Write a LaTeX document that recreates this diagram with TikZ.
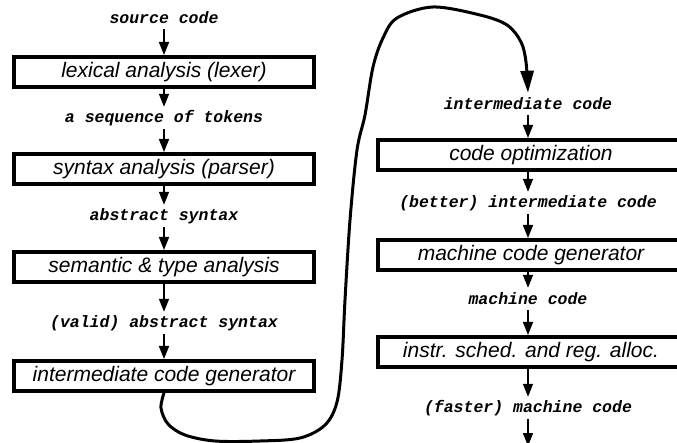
\documentclass[tikz,border=0pt]{standalone}
\usepackage{fontspec}
\usetikzlibrary{arrows.meta}
\newfontfamily\phasefam{Liberation Sans}
\newfontfamily\datafam{Liberation Mono}

\begin{document}
\begin{tikzpicture}[x=1pt,y=-1pt,
		phase/.style={draw,line width=4pt,minimum width=300pt,minimum height=30pt,inner sep=0pt,
				font=\phasefam\itshape\fontsize{21}{21}\selectfont},
		data/.style={inner sep=0pt,minimum height=22pt,
				font=\datafam\bfseries\itshape\fontsize{16.5}{16.5}\selectfont},
		pass/.style={line width=1.6pt,-{Triangle[length=13pt,width=10pt]}}]
	\useasboundingbox (0,0) rectangle (677,443);
	% front end
	\node[data] (src) at (164,18) {source code};
	\node[phase] (lex) at (164,72) {lexical analysis (lexer)};
	\node[data] (tok) at (164,118) {a sequence of tokens};
	\node[phase] (syn) at (164,169) {syntax analysis (parser)};
	\node[data] (abs) at (164,216) {abstract syntax};
	\node[phase] (sem) at (164,267) {semantic \& type analysis};
	\node[data] (vabs) at (164,323) {(valid) abstract syntax};
	\node[phase] (igen) at (164,376) {intermediate code generator};
	% back end
	\node[data] (ic) at (528,104) {intermediate code};
	\node[phase,minimum width=306pt] (opt) at (531,155) {code optimization};
	\node[data] (bic) at (528,203) {(better) intermediate code};
	\node[phase,minimum width=306pt] (mgen) at (531,255) {machine code generator};
	\node[data] (mc) at (528,299) {machine code};
	\node[phase,minimum width=306pt] (sched) at (531,352) {instr. sched. and reg. alloc.};
	\node[data] (fmc) at (528,408) {(faster) machine code};
	\coordinate (out) at (528,446);
	\foreach \a/\b in {src/lex,lex/tok,tok/syn,syn/abs,abs/sem,sem/vabs,vabs/igen} {
			\draw[pass] (\a) -- (\b);
		}
	\foreach \a/\b in {ic/opt,opt/bic,bic/mgen,mgen/mc,mc/sched,sched/fmc,fmc/out} {
			\draw[pass] (\a.south -| ic) -- (\b.north -| ic);
		}
	\draw[line width=3pt,-{Triangle[length=22pt,width=13pt]}] plot[smooth,tension=0.55] coordinates {
			(igen.south) (161,408) (168,424) (185,435) (215,441) (260,441) (300,438) (325,425) (337,402)
			(342,360) (345,300) (350,220) (357,150) (365,115) (373,67) (383,38) (397,18) (433,7)
			(480,15) (507,25) (521,42) (526,62) (ic.north)};
\end{tikzpicture}
\end{document}
